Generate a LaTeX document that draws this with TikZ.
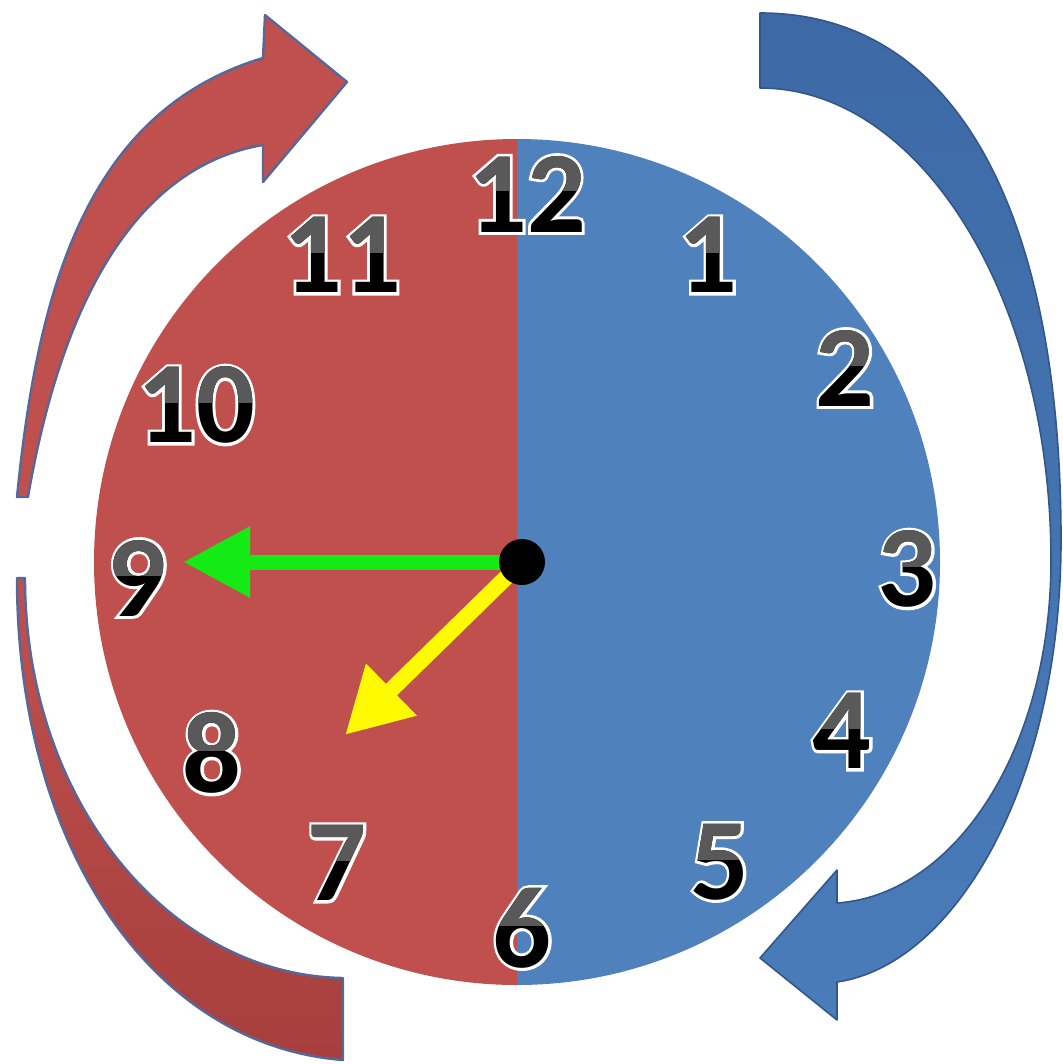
\documentclass[tikz,border=0pt]{standalone}
\usepackage{fontspec}
\usetikzlibrary{arrows.meta}
\newfontfamily\numfont{Carlito}
\newfontfamily\numhalo{Carlito}[BoldFeatures={FakeBold=5}]
\definecolor{clockred}{HTML}{C0504D}
\definecolor{clockblue}{HTML}{4F81BD}
\definecolor{arrowred}{HTML}{C0504D}
\definecolor{arrowreddark}{HTML}{A63F3D}
\definecolor{arrowbluetop}{HTML}{3D6AA6}
\definecolor{arrowbluebot}{HTML}{4A7CBA}
\definecolor{redoutline}{HTML}{56689A}
\definecolor{blueoutline}{HTML}{34578A}
\definecolor{numgray}{HTML}{595959}
\definecolor{handgreen}{RGB}{20,235,20}
\definecolor{handyellow}{RGB}{255,250,0}
\tikzset{
  numtext/.style={inner sep=0pt, font=\numfont\bfseries\fontsize{58}{60}\selectfont, text=black},
  numhalotext/.style={inner sep=0pt, font=\numhalo\bfseries\fontsize{58}{60}\selectfont, text=white},
  redarrow/.style={fill=arrowred, draw=redoutline, line width=1.2pt, line join=round},
  redarrowlow/.style={top color=arrowred, bottom color=arrowreddark, draw=redoutline, line width=1.2pt, line join=round},
  bluearrow/.style={top color=arrowbluetop, bottom color=arrowbluebot, draw=blueoutline, line width=0.8pt, line join=round},
}
\newcommand\clocknum[4]{%
  \node[numhalotext] (#1h) at (#2,#3) {#4};
  \node[numtext] (#1) at (#2,#3) {#4};
  \begin{scope}
    \clip (#2-80,#3-60) rectangle (#2+80,#3-3);
    \node[numtext,text=numgray] (#1g) at (#2,#3) {#4};
  \end{scope}
}
\begin{document}
\begin{tikzpicture}[x=0.5pt,y=-0.5pt]
\useasboundingbox (0,0) rectangle (1063,1064);
% clock face
\begin{scope}
  \clip (0,0) rectangle (517,1064);
  \fill[clockred] (517,562) circle[radius=423];
\end{scope}
\begin{scope}
  \clip (517,0) rectangle (1063,1064);
  \fill[clockblue] (517,562) circle[radius=423];
\end{scope}
% upper red arrow
\filldraw[redarrow] (17,497) .. controls (37,297) and (83,112) .. (263,58)
  -- (265,15) -- (347,82) -- (263,182) -- (263,145)
  .. controls (128,168) and (59,317) .. (28,497) -- cycle;
% lower red arrow
\filldraw[redarrowlow] (17,578) .. controls (17,844) and (150,1045) .. (343,1060)
  -- (343,978) .. controls (167,975) and (25,799) .. (25,578) -- cycle;
% blue arrow
\filldraw[bluearrow] (760,13) .. controls (960,13) and (1061,220) .. (1061,540)
  .. controls (1061,784) and (955,965) .. (837,982)
  -- (837,1020) -- (760,958) -- (837,870) -- (837,903)
  .. controls (955,895) and (1051,749) .. (1051,560)
  .. controls (1051,299) and (921,88) .. (760,88) -- cycle;
% numbers
\clocknum{n12}{527}{194}{12}
\clocknum{n1}{708}{255}{1}
\clocknum{n2}{845}{368}{2}
\clocknum{n3}{907}{569}{3}
\clocknum{n4}{842}{731}{4}
\clocknum{n5}{720}{862}{5}
\clocknum{n6}{522}{928}{6}
\clocknum{n7}{337}{863}{7}
\clocknum{n8}{212}{753}{8}
\clocknum{n9}{137}{578}{9}
\clocknum{n10}{196}{405}{10}
\clocknum{n11}{342}{255}{11}
% hands
\coordinate (ctr) at (522,562);
\coordinate (tipmin) at (183,562);
\coordinate (tiphour) at (345,735);
\draw[handgreen, line width=7.5pt, -{Triangle[length=33.5pt,width=33.5pt]}] (ctr) -- (tipmin);
\draw[handyellow, line width=8pt, -{Triangle[length=32.5pt,width=34pt]}] (ctr) -- (tiphour);
\node[circle, fill=black, minimum size=23pt, inner sep=0pt] (dot) at (ctr) {};
\end{tikzpicture}
\end{document}
